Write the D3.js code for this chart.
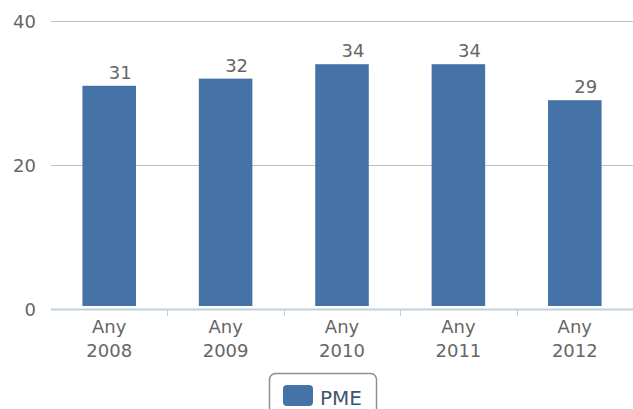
<!DOCTYPE html>
<html><head><meta charset="utf-8">
<script src="https://cdn.jsdelivr.net/npm/d3@7"></script>
<style>body{margin:0;background:#fff}svg{display:block;font-family:"DejaVu Sans",sans-serif}</style>
</head><body><svg id="c" width="633" height="409"></svg>
<script>
const categories = [["Any","2008"],["Any","2009"],["Any","2010"],["Any","2011"],["Any","2012"]];
const seriesName = "PME";
const values = [31, 32, 34, 34, 29];
const yTicks = [0, 20, 40];

(function(){
const svg = d3.select("#c");
const mL = 51, mR = 633, mT = 21, mB = 309;
const x = d3.scaleBand().domain(d3.range(categories.length)).range([mL, mR]).padding(0);
const y = d3.scaleLinear().domain([0, 40]).range([mB, mT]);

svg.append("g").selectAll("line").data(yTicks.filter(d => d > 0)).join("line")
  .attr("x1", mL).attr("x2", mR).attr("y1", d => y(d) + 0.5).attr("y2", d => y(d) + 0.5)
  .attr("stroke", "#C0C0C0").attr("stroke-width", 1);

svg.append("g").selectAll("text").data(yTicks).join("text")
  .attr("x", 36).attr("y", d => y(d) + 7)
  .attr("text-anchor", "end").attr("font-size", 18).attr("fill", "#666")
  .text(d => d);

const bw = x.bandwidth() * 0.46;
svg.append("g").selectAll("rect").data(values).join("rect")
  .attr("x", (d, i) => x(i) + x.bandwidth() / 2 - bw / 2)
  .attr("y", d => y(d))
  .attr("width", bw)
  .attr("height", d => mB - 3 - y(d))
  .attr("fill", "#4572A7");

svg.append("g").selectAll("text").data(values).join("text")
  .attr("x", (d, i) => x(i) + x.bandwidth() / 2 + 11)
  .attr("y", d => y(d) - 7)
  .attr("text-anchor", "middle").attr("font-size", 18).attr("fill", "#666")
  .text(d => d);

svg.append("line").attr("x1", mL).attr("x2", mR).attr("y1", mB + 0.5).attr("y2", mB + 0.5)
  .attr("stroke", "#C0D0E0").attr("stroke-width", 2);
svg.append("g").selectAll("line").data(d3.range(1, categories.length)).join("line")
  .attr("x1", i => Math.round(x(i)) + 0.5).attr("x2", i => Math.round(x(i)) + 0.5)
  .attr("y1", mB).attr("y2", mB + 7)
  .attr("stroke", "#C0D0E0").attr("stroke-width", 1);

const xl = svg.append("g").selectAll("text").data(categories).join("text")
  .attr("text-anchor", "middle").attr("font-size", 18).attr("fill", "#666");
xl.append("tspan").attr("x", (d, i) => x(i) + x.bandwidth() / 2).attr("y", 333).text(d => d[0]);
xl.append("tspan").attr("x", (d, i) => x(i) + x.bandwidth() / 2).attr("y", 357).text(d => d[1]);

const lg = svg.append("g");
lg.append("rect").attr("x", 269.5).attr("y", 373.5).attr("width", 107).attr("height", 50)
  .attr("rx", 6).attr("fill", "#fff").attr("stroke", "#909090").attr("stroke-width", 1.5);
lg.append("rect").attr("x", 283).attr("y", 385).attr("width", 30).attr("height", 21)
  .attr("rx", 4).attr("fill", "#4572A7");
lg.append("text").attr("x", 320).attr("y", 405).attr("font-size", 20).attr("fill", "#3E576F").text(seriesName);
})();
</script></body></html>
